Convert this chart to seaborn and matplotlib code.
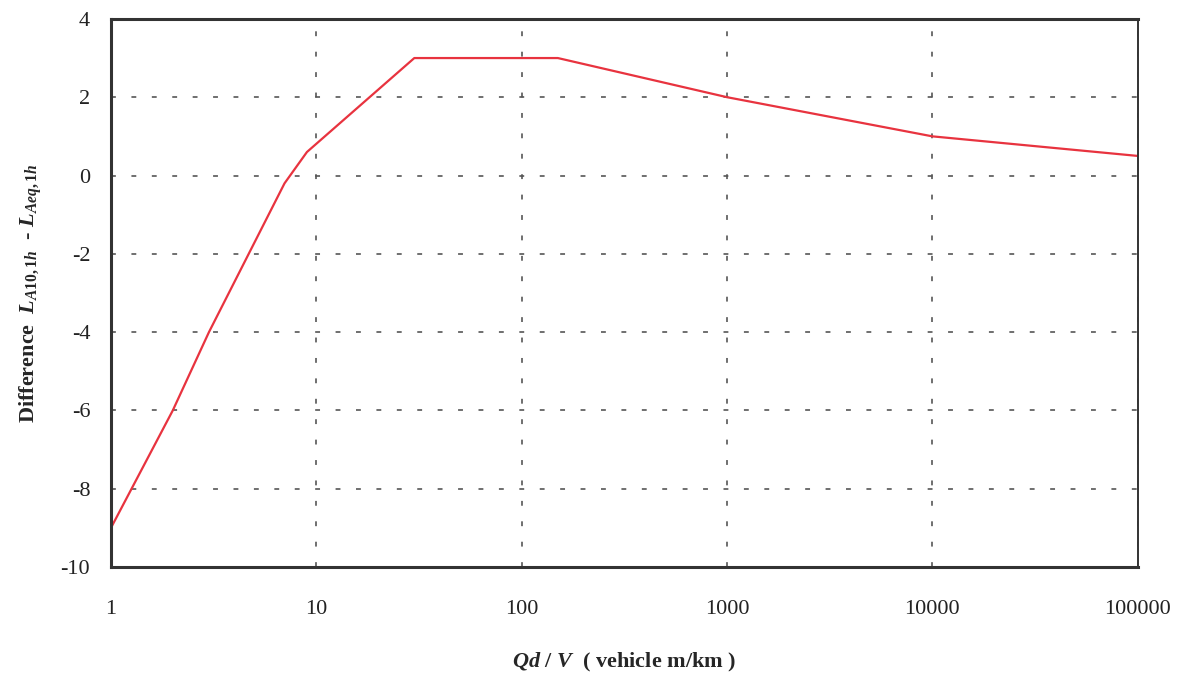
import pandas as pd
import numpy as np
import matplotlib.pyplot as plt
import matplotlib.ticker as mticker
import seaborn as sns


sns.set_theme(style="white")

plt.rcParams['font.family'] = ['Liberation Serif', 'DejaVu Serif']
plt.rcParams['axes.unicode_minus'] = False
plt.rcParams['mathtext.fontset'] = 'custom'
plt.rcParams['mathtext.rm'] = 'Liberation Serif:bold'
plt.rcParams['mathtext.it'] = 'Liberation Serif:italic:bold'
plt.rcParams['mathtext.bf'] = 'Liberation Serif:bold'

qd_over_v = [1, 2, 3, 7, 9, 30, 150, 1000, 10000, 100000]
difference = [-9.0, -6.0, -4.0, -0.2, 0.6, 3.0, 3.0, 2.0, 1.0, 0.5]

x_ticks = [1, 10, 100, 1000, 10000, 100000]
y_ticks = [-10, -8, -6, -4, -2, 0, 2, 4]

df = pd.DataFrame({'QdV': qd_over_v, 'Diff': difference})

fig = plt.figure(figsize=(11.87, 6.75), dpi=100)
ax = fig.add_axes([0.0935, 0.16, 0.865, 0.812])

sns.lineplot(data=df, x='QdV', y='Diff', ax=ax, color='#e8333f', linewidth=1.6,
             sort=False, estimator=None)

ax.set_xscale('log')
ax.set_xlim(1, 100000)
ax.set_ylim(-10, 4)
ax.set_xticks(x_ticks)
ax.xaxis.set_major_formatter(mticker.FuncFormatter(lambda v, p: f'{int(round(v))}'))
ax.xaxis.set_minor_locator(mticker.NullLocator())
ax.set_yticks(y_ticks)

# dotted grid like the original spreadsheet chart
ax.grid(True, which='major', color='#555555', linestyle=(0, (2.5, 8)), linewidth=1.4, alpha=0.85)

for side in ['left', 'bottom', 'top']:
    ax.spines[side].set_color('#333333')
    ax.spines[side].set_linewidth(2.2)
ax.spines['right'].set_color('#333333')
ax.spines['right'].set_linewidth(1.4)

ax.tick_params(axis='both', which='major', labelsize=16, colors='#222222',
               direction='out', length=6, width=1.2)
ax.tick_params(axis='x', pad=18)
ax.tick_params(axis='y', pad=9)

ax.set_xlabel(r'$Qd$ / $V$  ( vehicle m/km )', fontsize=16, fontweight='bold', labelpad=23)
ax.set_ylabel(r'Difference  $L_{\mathit{A10,1h}}$  - $L_{\mathit{Aeq,1h}}$',
              fontsize=16, fontweight='bold', labelpad=12)

plt.savefig('out.png', dpi=100)
